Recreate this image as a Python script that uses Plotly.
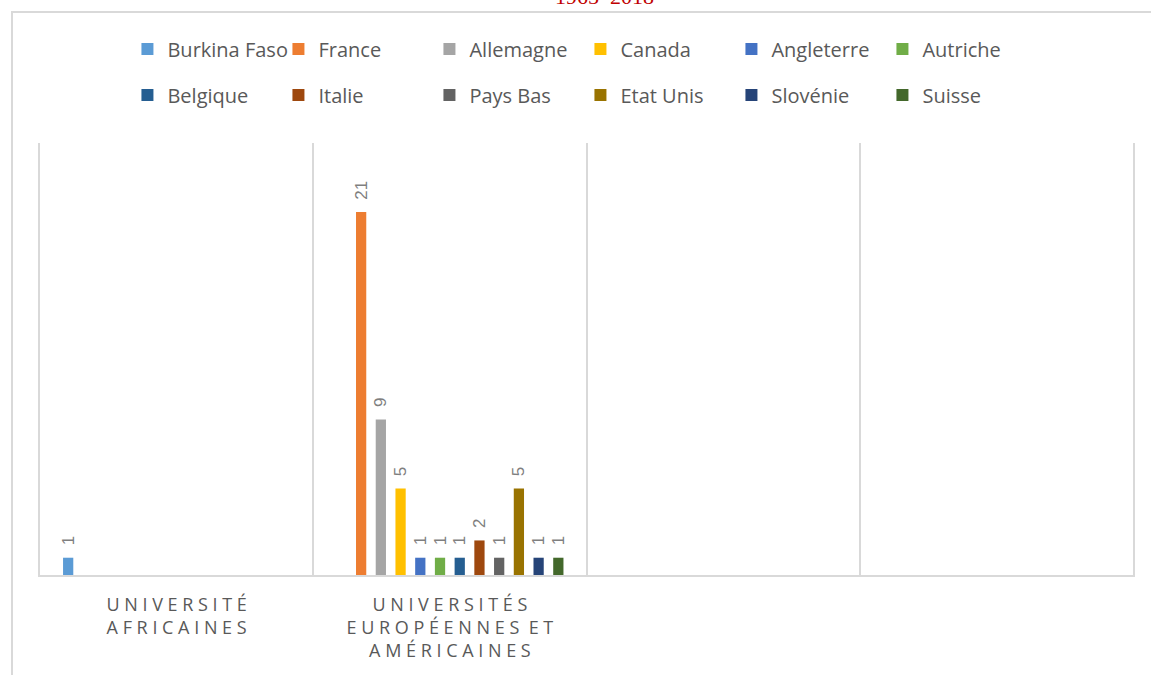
import plotly.graph_objects as go

# Catégories (les deux dernières sont vides dans le graphique d'origine)
categories = ["UNIVERSITÉ AFRICAINES", "UNIVERSITÉS EUROPÉENNES ET AMÉRICAINES", "", " "]

pays = ["Burkina Faso", "France", "Allemagne", "Canada", "Angleterre", "Autriche",
        "Belgique", "Italie", "Pays Bas", "Etat Unis", "Slovénie", "Suisse"]

couleurs = ["#5b9bd5", "#ed7d31", "#a5a5a5", "#ffc000", "#4472c4", "#70ad47",
            "#255e91", "#9e480e", "#636363", "#997300", "#264478", "#43682b"]

# valeurs par pays : [africaines, européennes/américaines, vide, vide]
burkina_faso = [1, None, None, None]
france = [None, 21, None, None]
allemagne = [None, 9, None, None]
canada = [None, 5, None, None]
angleterre = [None, 1, None, None]
autriche = [None, 1, None, None]
belgique = [None, 1, None, None]
italie = [None, 2, None, None]
pays_bas = [None, 1, None, None]
etat_unis = [None, 5, None, None]
slovenie = [None, 1, None, None]
suisse = [None, 1, None, None]

valeurs = [burkina_faso, france, allemagne, canada, angleterre, autriche,
           belgique, italie, pays_bas, etat_unis, slovenie, suisse]

GRIS = "#d9d9d9"
TEXTE = "#595959"


def espacer(label):
    """Imite l'espacement des lettres d'Excel avec des espaces insécables"""
    sp = "\u00a0"
    return [sp.join(list(m)) for m in label.split(" ")]


def tick_label(label):
    if not label.strip():
        return label
    mots = espacer(label)
    if len(mots) == 2:
        return mots[0] + "<br>" + mots[1]
    return mots[0] + "<br>" + mots[1] + "\u00a0\u00a0" + mots[2] + "<br>" + mots[3]


fig = go.Figure()

for i, (nom, vals) in enumerate(zip(pays, valeurs)):
    fig.add_trace(go.Bar(
        name=nom,
        x=categories,
        y=vals,
        marker=dict(color=couleurs[i], line=dict(width=0)),
        # espaces insécables : petit écart entre la barre et l'étiquette
        text=[("" if v is None else "\u00a0\u00a0" + str(v)) for v in vals],
        textposition="outside",
        textangle=-90,
        constraintext="none",
        textfont=dict(size=17, color="#7f7f7f", family="Liberation Sans, Arial"),
        cliponaxis=False,
        legend="legend" if i < 6 else "legend2",
    ))

# cadre du graphique (bord gauche et haut visibles)
fig.add_shape(type="rect", xref="paper", yref="paper",
              x0=-0.0256, x1=1.6, y0=-0.6, y1=1.3032,
              line=dict(color=GRIS, width=2), layer="below")

fig.add_annotation(
    text="1965–2018", xref="paper", yref="paper", x=0.5166, y=1.3055,
    xanchor="center", yanchor="bottom", showarrow=False,
    font=dict(family="Liberation Serif, Times New Roman", size=22, color="#c00000"),
)

leg_common = dict(
    orientation="h",
    xanchor="left",
    yanchor="middle",
    x=0.08,
    entrywidth=106,
    entrywidthmode="pixels",
    font=dict(size=20, color=TEXTE, family="Open Sans, Liberation Sans"),
    bgcolor="rgba(0,0,0,0)",
    itemclick=False,
)

fig.update_layout(
    width=1151,
    height=675,
    margin=dict(l=40, r=18, t=143, b=100),
    paper_bgcolor="white",
    plot_bgcolor="white",
    barmode="group",
    bargap=0.134,
    bargroupgap=0.48,
    showlegend=True,
    legend=dict(**leg_common, y=(575 - 49) / 432),
    legend2=dict(**leg_common, y=(575 - 95) / 432),
    font=dict(family="Open Sans, Liberation Sans", color=TEXTE),
)

fig.update_xaxes(
    type="category",
    tickmode="array",
    tickvals=categories,
    ticktext=[tick_label(c) for c in categories],
    tickson="boundaries",
    showgrid=True,
    gridcolor=GRIS,
    gridwidth=2,
    showline=True,
    linecolor=GRIS,
    linewidth=2,
    ticks="",
    ticklabelstandoff=12,
    tickfont=dict(size=18, color=TEXTE, family="Open Sans, Liberation Sans"),
    range=[-0.5, 3.5],
)

fig.update_yaxes(
    range=[0, 25],
    showgrid=False,
    showticklabels=False,
    zeroline=False,
    showline=True,
    mirror=True,
    linecolor=GRIS,
    linewidth=2,
)

fig.write_html("out.html", config={"displayModeBar": False},
               post_script="document.body.style.margin='0';")
